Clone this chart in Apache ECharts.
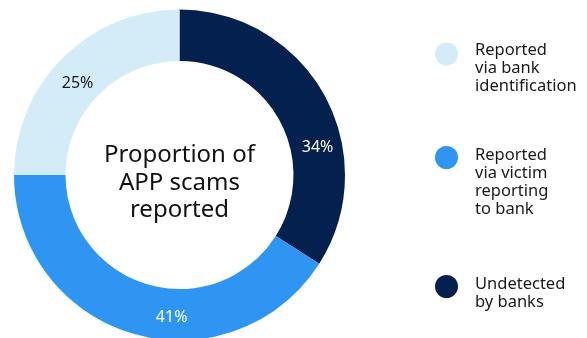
<!DOCTYPE html>
<html>
<head>
<meta charset="utf-8">
<script src="https://cdn.jsdelivr.net/npm/echarts@6/dist/echarts.min.js"></script>
<style>
html,body{margin:0;padding:0;background:#fff;}
#main{width:587px;height:338px;}
</style>
</head>
<body>
<div id="main"></div>
<script>
// Data
const categories = ['Undetected by banks', 'Reported via victim reporting to bank', 'Reported via bank identification'];
const legendLabels = ['Undetected\nby banks', 'Reported\nvia victim\nreporting\nto bank', 'Reported\nvia bank\nidentification'];
const values = [34, 41, 25];
const centerTitle = 'Proportion of\nAPP scams\nreported';

const colors = ['#03204F', '#2E95F2', '#D4EBF8'];
const labelColors = ['#ffffff', '#ffffff', '#1a1a1a'];
const labelOffsets = [[13, 41], [32, 5], [-1, 9]];
const legendIconY = [286.5, 157.5, 54];
const legendTextLift = [2.5, 2.5, 4];
const FONT = 'Noto Sans';
const LH = 18;

const chart = echarts.init(document.getElementById('main'), null, {renderer: 'canvas'});

const legends = categories.map((name, i) => {
  const lines = legendLabels[i].split('\n');
  const n = lines.length;
  const X = LH - 2 * legendTextLift[i] / (n - 1);
  const text = Array(n - 1).fill('{e| }').concat(lines.map(l => '{t|' + l + '}')).join('\n');
  const H = (n - 1) * X + n * LH;
  return {
    orient: 'vertical',
    left: 435,
    top: legendIconY[i] - H / 2,
    padding: 0,
    itemWidth: 23,
    itemHeight: 23,
    icon: 'circle',
    selectedMode: false,
    data: [{name: name}],
    formatter: () => text,
    textStyle: {
      fontFamily: FONT,
      fontSize: 16.5,
      lineHeight: LH,
      color: '#1a1a1a',
      padding: [0, 0, 0, 12],
      rich: {
        e: {fontFamily: FONT, fontSize: 8, lineHeight: X, color: 'transparent'},
        t: {fontFamily: FONT, fontSize: 16.5, lineHeight: LH, color: '#1a1a1a'}
      }
    }
  };
});

chart.setOption({
  animation: false,
  color: colors,
  legend: legends,
  graphic: [{
    type: 'text',
    x: 179.5,
    y: 183,
    style: {
      text: centerTitle,
      align: 'center',
      verticalAlign: 'middle',
      fontFamily: FONT,
      fontSize: 24,
      lineHeight: 27.5,
      fill: '#111'
    }
  }],
  series: [{
    type: 'pie',
    center: [179.5, 175],
    radius: [114, 165.5],
    startAngle: 90,
    clockwise: true,
    avoidLabelOverlap: false,
    silent: true,
    label: {
      show: true,
      position: 'inside',
      fontFamily: FONT,
      fontSize: 16,
      formatter: '{c}%'
    },
    labelLine: {show: false},
    itemStyle: {borderWidth: 0},
    data: categories.map((name, i) => ({
      name: name,
      value: values[i],
      itemStyle: {color: colors[i]},
      label: {color: labelColors[i], offset: labelOffsets[i]}
    }))
  }]
});
</script>
</body>
</html>
